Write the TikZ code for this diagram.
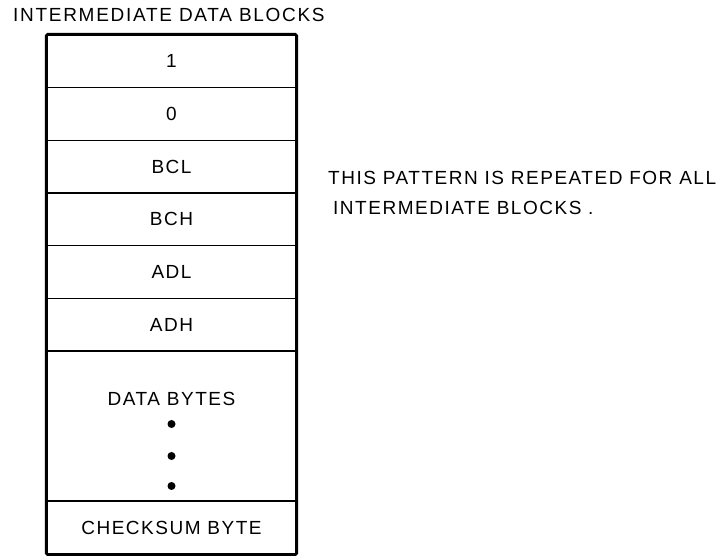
\documentclass[tikz,border=0pt]{standalone}
\usepackage{fontspec}
\setmainfont{Liberation Sans}
\newfontfamily\boxfont{Liberation Sans}[LetterSpace=8]
\newfontfamily\ttlfont{Liberation Sans}[LetterSpace=9]
\begin{document}
\begin{tikzpicture}[x=1pt,y=1pt,
  cell/.style={draw,line width=1.6pt,minimum width=249pt,inner sep=0pt,
    font={\boxfont\fontsize{19}{23}\selectfont}},
  lbl/.style={inner sep=0pt,anchor=base west,font={\boxfont\fontsize{19}{23}\selectfont}},
  ttl/.style={inner sep=0pt,anchor=base west,font={\ttlfont\fontsize{19}{23}\selectfont}},
  dot/.style={circle,fill,inner sep=0pt,minimum size=8pt},
  outer/.style={line width=2.6pt,rounded corners=1.5pt}]
\useasboundingbox (0,0) rectangle (722,556);
\def\rh{52.67}
\node[ttl] (title) at (13,534) {INTERMEDIATE DATA BLOCKS};
\node[cell,minimum height=\rh pt] (r1) at (171.5,{556-35-0.5*\rh}) {1};
\node[cell,minimum height=\rh pt] (r2) at (171.5,{556-35-1.5*\rh}) {0};
\node[cell,minimum height=\rh pt] (r3) at (171.5,{556-35-2.5*\rh}) {BCL};
\node[cell,minimum height=\rh pt] (r4) at (171.5,{556-35-3.5*\rh}) {BCH};
\node[cell,minimum height=\rh pt] (r5) at (171.5,{556-35-4.5*\rh}) {ADL};
\node[cell,minimum height=\rh pt] (r6) at (171.5,{556-35-5.5*\rh}) {ADH};
\node[cell,minimum height=150pt] (data) at (171.5,{556-426}) {};
\node[cell,minimum height=53pt] (chk) at (171.5,{556-527.5}) {CHECKSUM BYTE};
\node[inner sep=0pt,font={\boxfont\fontsize{19}{23}\selectfont}] (dlbl) at (171.5,{556-398.5}) {DATA BYTES};
\node[dot] (d1) at (171.5,{556-424}) {};
\node[dot] (d2) at (171.5,{556-456}) {};
\node[dot] (d3) at (171.5,{556-486}) {};
\draw[outer] (r1.north west) rectangle (chk.south east);
\node[lbl] (note1) at (328,{556-185}) {THIS PATTERN IS REPEATED FOR ALL};
\node[lbl] (note2) at (333,{556-215}) {INTERMEDIATE BLOCKS .};
\end{tikzpicture}
\end{document}
